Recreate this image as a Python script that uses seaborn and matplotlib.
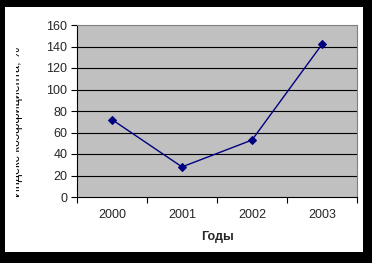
import matplotlib
matplotlib.use("Agg")
import matplotlib.pyplot as plt
import seaborn as sns
import pandas as pd
from matplotlib.patches import Rectangle

years = ["2000", "2001", "2002", "2003"]
values = [72, 28, 53, 142]
y_ticks = [0, 20, 40, 60, 80, 100, 120, 140, 160]
x_label = "Годы"
y_label = "Индекс коэффициента, %"

sns.set_theme(style="white")
plt.rcParams['font.family'] = ['Liberation Sans', 'DejaVu Sans']

df = pd.DataFrame({"year": years, "value": values})

W, H = 372, 263
fig = plt.figure(figsize=(W / 100, H / 100), dpi=100)
fig.patch.set_facecolor("white")
ax = fig.add_axes([77 / W, 1 - 197 / H, (357 - 77) / W, (197 - 25) / H])
ax.set_facecolor("#C0C0C0")

xpos = list(range(len(years)))
df["x"] = xpos
sns.lineplot(data=df, x="x", y="value", ax=ax, color="#000080", marker="D",
             markersize=4, markeredgecolor="#000080", linewidth=1)

ax.set_xlim(-0.5, len(years) - 0.5)
ax.set_ylim(0, 160)
ax.set_yticks(y_ticks)
ax.set_yticklabels([str(t) for t in y_ticks], fontsize=9)
ax.set_xticks(xpos)
ax.set_xticklabels(years, fontsize=9)
ax.tick_params(axis="x", length=0, pad=9)
ax.tick_params(axis="y", length=4, width=0.8, color="black", pad=3, left=True)
ax.set_xticks([-0.5, 0.5, 1.5, 2.5, 3.5], minor=True)
ax.tick_params(axis="x", which="minor", length=4, width=0.8, color="black", bottom=True)

for t in y_ticks[1:-1]:
    ax.axhline(t, color="black", linewidth=0.8, zorder=1)

for s in ["top", "right"]:
    ax.spines[s].set_color("#808080")
    ax.spines[s].set_linewidth(0.8)
for s in ["left", "bottom"]:
    ax.spines[s].set_color("black")
    ax.spines[s].set_linewidth(0.8)

ax.set_xlabel(x_label, fontsize=9, fontweight="bold", labelpad=7)
ax.set_ylabel("")
fig.text(23.5 / W, 1 - 122 / H, y_label, rotation=90, fontsize=9,
         ha="right", va="center", color="black")

# white clip strip (label is cut off in the reference)
fig.patches.append(Rectangle((0, 0), 16 / W, 1, transform=fig.transFigure,
                             facecolor="white", edgecolor="none", zorder=15))
# black frame around the chart area
frame_kw = dict(transform=fig.transFigure, facecolor="black", edgecolor="none", zorder=20)
fig.patches.append(Rectangle((0, 0), 5 / W, 1, **frame_kw))
fig.patches.append(Rectangle((0, 1 - 7 / H), 1, 7 / H, **frame_kw))
fig.patches.append(Rectangle((1 - 9 / W, 0), 9 / W, 1, **frame_kw))
fig.patches.append(Rectangle((0, 0), 1, 11 / H, **frame_kw))

fig.savefig("out.png", dpi=100)
